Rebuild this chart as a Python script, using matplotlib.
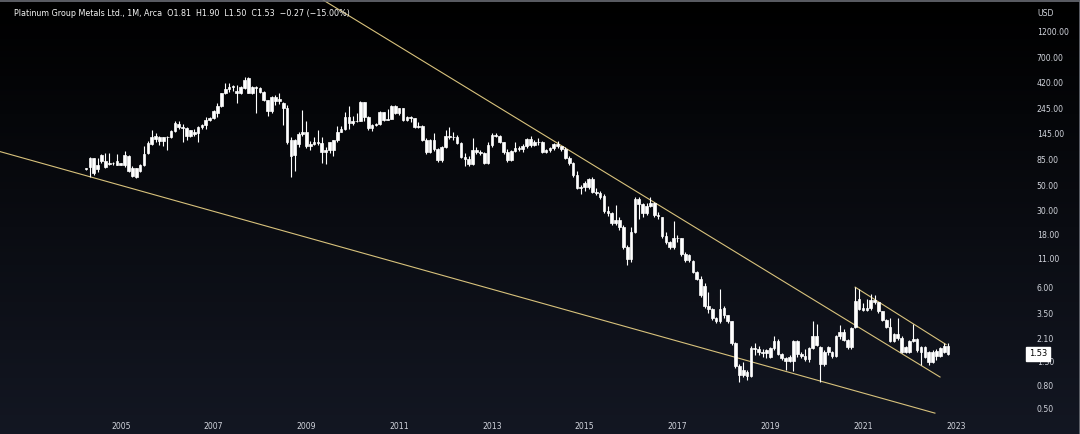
import numpy as np
import pandas as pd
import matplotlib
matplotlib.use("Agg")
from matplotlib import pyplot as plt
from matplotlib import font_manager
from matplotlib.transforms import blended_transform_factory
from matplotlib.ticker import NullLocator

# monthly candles, first bar April 2004
start_month = "2004-04-01"

opens = [70, 73.5, 88, 70.6, 82.8, 83, 78, 79, 77, 79, 76.5, 91, 72, 60, 67, 76.5, 98, 118, 131, 135,
         126, 135, 136, 154, 180, 168, 165, 139, 152, 147, 168, 175, 194, 200, 225, 258, 337, 365, 380, 350,
         337, 377, 460, 340, 386, 375, 345, 290, 232, 313, 285, 273, 250, 128, 93, 118, 145, 150, 112, 118,
         122, 120, 99, 105, 104, 127, 152, 160, 206, 182, 188, 190, 278, 206, 165, 175, 180, 228, 195, 198,
         258, 222, 247, 192, 204, 200, 167, 172, 128, 100, 128, 106, 84, 110, 140, 135, 136, 120, 90, 86,
         78, 104, 100, 98, 80, 116, 142, 139, 122, 99, 84, 102, 108, 106, 113, 130, 115, 122, 124, 100,
         103, 108, 118, 112, 106, 89, 79, 62, 47, 48, 48, 57, 44, 43, 40, 29.5, 28, 23, 24.5, 21,
         14, 11, 19, 38, 34, 28, 33, 35, 27, 26, 17.5, 15.5, 14, 17, 16.7, 12, 10.8, 10.5, 8.3, 7.2,
         6.3, 4.1, 3.9, 3.2, 3.0, 3.95, 3.4, 3.0, 1.9, 1.2, 1.0, 1.05, 0.97, 1.74, 1.7, 1.58, 1.55, 1.45, 1.72, 2.0,
         1.52, 1.4, 1.33, 1.32, 2.0, 1.52, 1.46, 1.38, 1.72, 2.2, 1.75, 1.25, 1.59, 1.59, 1.47, 2.2, 2.4, 2.05, 1.75, 2.7,
         3.9, 4.0, 3.8, 4.0, 4.7, 4.5, 3.7, 3.1, 2.7, 2.0, 2.3, 2.15, 1.6, 1.6, 2.0, 2.1, 1.75, 1.75, 1.6, 1.3,
         1.62, 1.48, 1.6, 1.81]
highs = [71, 90, 89, 89, 95, 98, 98, 82, 96, 80, 102, 93, 75, 72, 78, 112, 125, 159, 147, 138,
         137, 138, 156, 190, 188, 180, 167, 158, 162, 170, 178, 206, 206, 238, 275, 340, 413, 413, 400, 400,
         390, 475, 470, 395, 395, 380, 352, 295, 318, 325, 337, 278, 262, 135, 130, 150, 238, 190, 125, 135,
         157, 135, 110, 124, 128, 170, 172, 230, 258, 212, 222, 285, 282, 210, 180, 182, 235, 230, 243, 265,
         262, 250, 250, 210, 212, 202, 185, 175, 133, 130, 149, 108, 112, 157, 167, 150, 142, 122, 98, 92,
         133, 110, 104, 100, 122, 149, 148, 142, 124, 106, 104, 124, 114, 118, 132, 138, 128, 132, 125, 106,
         110, 120, 125, 114, 110, 92, 82, 68, 50, 55, 58, 60, 47, 45, 42, 33, 29, 33.5, 26, 22,
         14.5, 21, 39, 39, 35, 35, 39, 35.5, 29, 26, 19, 16, 24, 18, 17, 12.5, 12.2, 10.7, 8.5, 7.6,
         6.6, 5.5, 4.0, 3.3, 5.9, 4.1, 3.4, 3.05, 1.95, 1.25, 1.3, 1.1, 1.8, 1.9, 1.8, 1.7, 1.7, 1.75, 2.2, 2.1,
         1.55, 1.45, 1.5, 2.05, 2.05, 1.6, 1.7, 1.75, 3.0, 2.85, 1.8, 1.65, 1.8, 1.62, 2.25, 2.8, 2.55, 2.1, 2.65, 6.1,
         5.9, 4.4, 4.8, 5.3, 5.2, 4.5, 3.75, 3.15, 3.2, 2.35, 3.2, 2.2, 1.8, 2.05, 2.85, 2.15, 1.8, 1.8, 1.62, 1.65,
         1.7, 1.78, 1.9, 1.90]
lows = [69, 60, 62, 66, 80, 71.5, 77, 77, 76, 76, 73.5, 66, 60, 58, 66, 75, 96, 116, 122, 116,
        112, 104, 134, 152, 162, 124, 128, 136, 139, 124, 160, 162, 190, 198, 204, 255, 330, 345, 355, 275,
        330, 370, 335, 330, 222, 335, 285, 212, 225, 265, 270, 175, 118, 60, 68, 110, 140, 108, 105, 115,
        116, 80, 78, 98, 91, 122, 150, 158, 162, 176, 186, 188, 188, 157, 155, 170, 175, 188, 192, 196,
        218, 215, 188, 190, 185, 165, 165, 125, 96, 98, 102, 82, 82, 108, 130, 128, 118, 88, 75, 75,
        76, 95, 94, 78, 78, 110, 135, 120, 96, 82, 83, 100, 102, 100, 108, 110, 112, 115, 98, 98,
        100, 103, 108, 102, 87, 77, 60, 46, 42, 45, 46, 43, 41, 38, 28, 26.5, 22, 22, 20, 13.5,
        9.6, 10.2, 18.5, 25, 26, 27, 32, 26, 25, 17, 15, 13.5, 13.5, 15.5, 11.5, 10.3, 10.3, 8.1, 7.0, 5.0,
        4.0, 3.6, 3.1, 2.9, 2.9, 3.2, 2.9, 1.85, 1.15, 0.86, 0.95, 0.9, 0.95, 1.5, 1.5, 1.45, 1.4, 1.4, 1.65, 1.5,
        1.35, 1.1, 1.3, 1.07, 1.45, 1.4, 1.33, 1.3, 1.7, 1.8, 0.86, 1.2, 1.5, 1.42, 1.45, 2.1, 2.0, 1.7, 1.7, 2.6,
        3.8, 3.7, 3.7, 3.8, 4.3, 3.6, 3.0, 2.6, 1.95, 1.95, 2.05, 1.55, 1.55, 1.55, 1.95, 1.6, 1.23, 1.4, 1.22, 1.28,
        1.35, 1.45, 1.55, 1.50]
closes = [71, 89, 64, 76.5, 93, 73.5, 79, 79.5, 83, 77, 93, 67, 61, 71.5, 76.5, 96, 120, 135, 139, 126,
          135, 137, 154, 183, 168, 165, 139, 157, 145, 168, 175, 194, 200, 235, 258, 337, 365, 380, 394, 337,
          386, 443, 340, 386, 375, 345, 290, 232, 313, 285, 300, 250, 124, 91, 128, 145, 150, 112, 118, 122,
          120, 99, 105, 122, 127, 152, 162, 206, 182, 188, 190, 278, 206, 165, 175, 180, 228, 195, 198, 258,
          222, 247, 192, 204, 200, 167, 172, 128, 100, 128, 106, 84, 110, 140, 135, 136, 120, 90, 86, 78,
          104, 100, 98, 80, 116, 142, 139, 122, 99, 84, 102, 108, 106, 113, 130, 115, 122, 124, 100, 103,
          108, 118, 112, 106, 89, 79, 62, 47, 48, 53, 57, 44, 43, 39, 29.5, 28, 23, 24.5, 21, 14,
          11, 19, 38, 34, 28, 33, 35, 27, 26.5, 17.5, 15.5, 14, 17, 16.7, 12, 10.8, 11.8, 8.3, 7.2, 5.2,
          4.1, 3.9, 3.2, 3.0, 3.9, 3.4, 3.0, 1.9, 1.2, 1.0, 1.1, 0.97, 1.74, 1.7, 1.58, 1.55, 1.65, 1.72, 2.0, 1.52,
          1.4, 1.33, 1.45, 2.0, 1.52, 1.46, 1.38, 1.72, 2.2, 1.85, 1.25, 1.59, 1.75, 1.47, 2.2, 2.4, 2.05, 1.75, 2.6, 4.6,
          4.8, 3.8, 4.0, 4.7, 4.5, 3.7, 3.1, 2.7, 2.0, 2.3, 2.15, 1.6, 1.75, 2.0, 2.1, 1.65, 1.6, 1.45, 1.3, 1.6,
          1.48, 1.72, 1.8, 1.53]

# drawn trend lines: (decimal year, price) end points
support_line = [(2002.0, 112), (2022.55, 0.45)]
resistance_line = [(2009.01, 2848), (2022.66, 0.95)]
channel_line = [(2020.83, 6.1), (2022.79, 1.86)]

price_ticks = [1200, 700, 420, 245, 145, 85, 50, 30, 18, 11, 6, 3.5, 2.1, 1.3, 0.8, 0.5]
year_ticks = list(range(2005, 2024, 2))

TEXT = "#d1d4dc"
LINE = "#d8c27c"


def narrow_font(size):
    # prefer a condensed face so the labels are as tight as the original
    names = {(f.name, f.stretch) for f in font_manager.fontManager.ttflist}
    if ("DejaVu Sans", "condensed") in names:
        return dict(family="DejaVu Sans", stretch="condensed", size=size)
    if any(n == "Liberation Sans Narrow" for n, _ in names):
        return dict(family="Liberation Sans Narrow", size=size * 1.05)
    return dict(family="DejaVu Sans", size=size * 0.9)


def main():
    dates = pd.date_range(start_month, periods=len(closes), freq="MS")
    x = dates.year + (dates.month - 1) / 12.0
    o = np.array(opens)
    c = np.array(closes)
    top = np.maximum(o, c)
    bot = np.minimum(o, c)

    fig = plt.figure(figsize=(10.8, 4.34), dpi=100)

    # background: black at top fading to dark navy
    bg = fig.add_axes([0, 0, 1, 1], zorder=-10)
    grad = np.linspace(0, 1, 256)
    cols = np.zeros((256, 1, 3))
    cols[:, 0, 0] = grad * 0.075
    cols[:, 0, 1] = grad * 0.090
    cols[:, 0, 2] = grad * 0.135
    bg.imshow(cols, aspect="auto", extent=[0, 1, 0, 1], origin="upper")
    bg.axis("off")

    ax = fig.add_axes([0, 18 / 434, 1020 / 1080, 416 / 434])
    ax.set_facecolor("none")
    ax.set_yscale("log")

    # candles
    ax.vlines(x, lows, highs, color="white", lw=0.8, zorder=3)
    ax.bar(x, top - bot, bottom=bot, width=0.058, color="white",
           edgecolor="white", linewidth=0.5, zorder=4)

    # trend lines
    for pts in (support_line, resistance_line, channel_line):
        xs, ys = zip(*pts)
        ax.plot(xs, ys, color=LINE, lw=0.8, zorder=2)

    ax.set_xlim(2002.396, 2024.384)
    ax.set_ylim(0.424, 2317)

    for s in ax.spines.values():
        s.set_visible(False)

    tick_font = narrow_font(6.2)
    ax.yaxis.tick_right()
    ax.set_yticks(price_ticks)
    ax.set_yticklabels([f"{p:.2f}" for p in price_ticks])
    ax.yaxis.set_minor_locator(NullLocator())
    ax.set_xticks(year_ticks)
    ax.set_xticklabels([str(y) for y in year_ticks])
    ax.tick_params(axis="both", length=0, colors=TEXT)
    ax.tick_params(axis="y", pad=12)
    ax.tick_params(axis="x", pad=4)
    for lab in ax.get_xticklabels() + ax.get_yticklabels():
        lab.set(**{k: v for k, v in tick_font.items() if k != "size"})
        lab.set_fontsize(tick_font["size"])

    # last price tag
    tr = blended_transform_factory(ax.transAxes, ax.transData)
    ax.text(1.0 + 9 / 1020, c[-1], f"{c[-1]:.2f}", transform=tr, ha="left", va="center",
            color="black", zorder=10, clip_on=False,
            bbox=dict(boxstyle="square,pad=0.3", fc="white", ec="white"), **narrow_font(6.6))

    fig.text(1037 / 1080, 1 - 13 / 434, "USD", color=TEXT, ha="left", va="center", **tick_font)

    chg = c[-1] - c[-2]
    pct = chg / c[-2] * 100
    title = (f"Platinum Group Metals Ltd., 1M, Arca  O{o[-1]:.2f}  H{highs[-1]:.2f}  "
             f"L{lows[-1]:.2f}  C{c[-1]:.2f}  \u2212{abs(chg):.2f} (\u2212{abs(pct):.2f}%)")
    fig.text(14 / 1080, 1 - 14 / 434, title, color="#f4f4f4", ha="left", va="center",
             **narrow_font(6.4))

    # thin screenshot frame along the top and right edge
    fig.add_artist(plt.Line2D([0, 1, 1], [0.998, 0.998, 0], transform=fig.transFigure,
                              color="#6a6d75", lw=1.2))

    fig.savefig("out.png", dpi=100)


if __name__ == "__main__":
    main()
